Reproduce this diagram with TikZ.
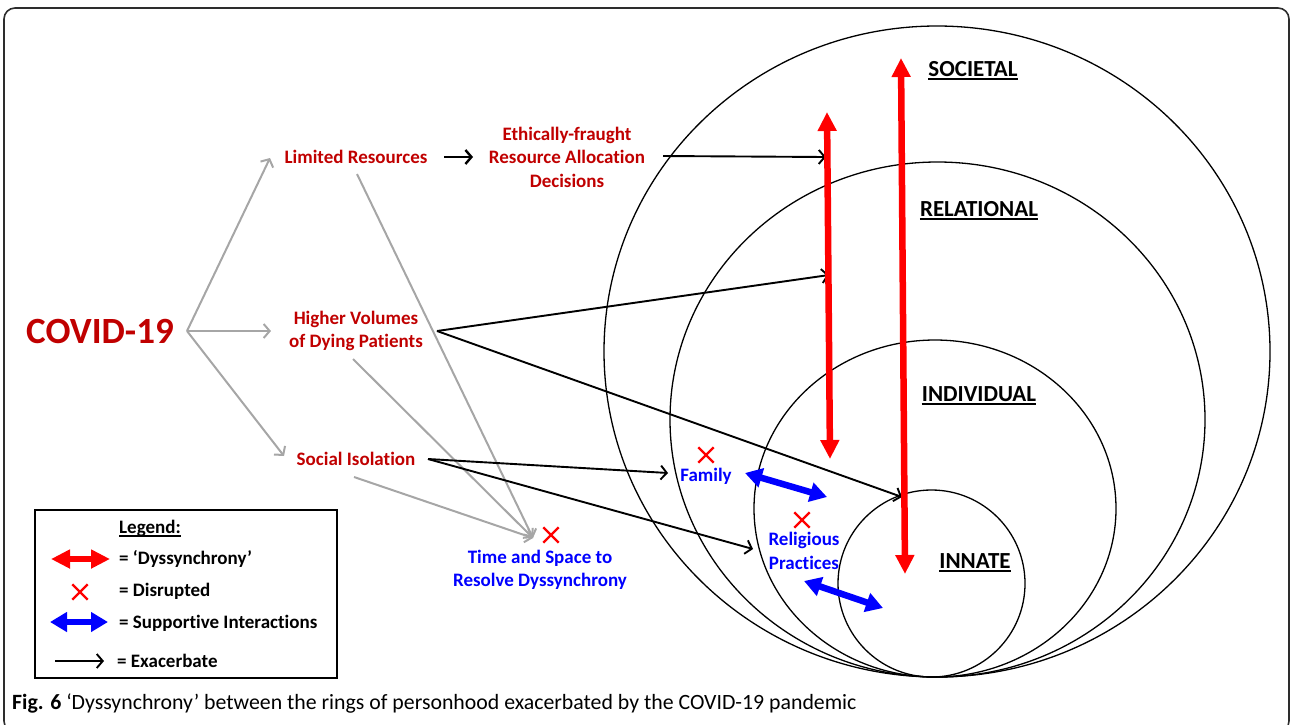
\documentclass[tikz,border=0pt]{standalone}
\usepackage{fontspec}
\setmainfont{Carlito}[Ligatures=NoCommon]
\usetikzlibrary{arrows.meta,shapes.misc,shapes.geometric}

\definecolor{labred}{RGB}{192,0,0}
\definecolor{hotred}{RGB}{255,0,0}
\definecolor{supblue}{RGB}{0,0,255}
\definecolor{linkgray}{RGB}{166,166,166}
\definecolor{framegray}{RGB}{45,45,45}

\begin{document}
\begin{tikzpicture}[x=1pt,y=-1pt,
  lbl/.style={font=\fontsize{19}{23.5}\selectfont\bfseries, align=center, inner sep=0pt},
  redlbl/.style={lbl, text=labred},
  bluelbl/.style={lbl, text=supblue},
  legtext/.style={font=\fontsize{19}{22}\selectfont\bfseries, anchor=west, inner sep=0pt},
  ringlbl/.style={font=\fontsize{23}{26}\selectfont\bfseries, inner sep=0pt},
  ring/.style={draw, line width=1.3pt, ellipse, inner sep=0pt},
  grayarrow/.style={draw=linkgray, line width=2pt, -{Straight Barb[length=6pt,width=14pt]}},
  exarrow/.style={draw=black, line width=1.9pt, -{Straight Barb[length=6pt,width=14pt]}},
  dyssync/.style={draw=hotred, line width=6.5pt, {Triangle[length=19pt,width=18pt]}-{Triangle[length=19pt,width=18pt]}},
  support/.style={draw=supblue, line width=6.5pt, {Triangle[length=17pt,width=19pt]}-{Triangle[length=17pt,width=19pt]}},
  xmark/.style={cross out, draw=hotred, line width=2.4pt, minimum size=13pt, inner sep=0pt},
]
\useasboundingbox (0,0) rectangle (1292,724);

% outer frame, its lower edge running off the page
\begin{scope}
  \clip (0,0) rectangle (1292,724);
  \draw[framegray, line width=1.6pt, rounded corners=11pt] (4,8) rectangle (1289,732);
\end{scope}

% rings of personhood, all touching at the bottom
\node[ring, minimum width=666pt, minimum height=651pt] (societal) at (937,351.5) {};
\node[ring, minimum width=535pt, minimum height=515pt] (relational) at (937.5,419.5) {};
\node[ring, minimum width=362pt, minimum height=337pt] (individual) at (935,508.5) {};
\node[ring, minimum width=187pt, minimum height=187pt] (innate) at (931.5,583.5) {};

\node[ringlbl] (socL) at (973,69) {SOCIETAL};
\node[ringlbl] (relL) at (979,209) {RELATIONAL};
\node[ringlbl] (indL) at (979,394) {INDIVIDUAL};
\node[ringlbl] (innL) at (975,561) {INNATE};
\foreach \n in {socL,relL,indL,innL}
  \draw[line width=1.7pt] ([yshift=-2.8pt]\n.base west) -- ([yshift=-2.8pt]\n.base east);

% causes
\node[font=\fontsize{37}{40}\selectfont\bfseries, text=labred, inner sep=0pt] (covid) at (100,331) {COVID-19};
\coordinate (fork) at (187,331);
\node[redlbl] (limres) at (356,157) {Limited Resources};
\node[redlbl] (ethic) at (567,157) {Ethically-fraught\\Resource Allocation\\Decisions};
\node[redlbl] (highvol) at (356,331) {Higher Volumes\\of Dying Patients};
\node[redlbl] (isol) at (356,459) {Social Isolation};

% disrupted supports
\node[bluelbl] (timespace) at (540,570) {Time and Space to\\Resolve Dyssynchrony};
\node[bluelbl] (family) at (706,476) {Family};
\node[bluelbl] (relig) at (804,551) {Religious\\Practices};
\node[xmark] (xtime) at (551,535) {};
\node[xmark] (xfam) at (706,455) {};
\node[xmark] (xrel) at (802,520) {};

% gray branches out of COVID-19
\coordinate (tLim) at (270,158);
\coordinate (tVol) at (271,331);
\coordinate (tIso) at (284,456);
\draw[grayarrow] (fork) -- (tLim);
\draw[grayarrow] (fork) -- (tVol);
\draw[grayarrow] (fork) -- (tIso);

% gray links converging on time and space
\coordinate (tTime) at (533,538);
\coordinate (sLim) at (357,174);
\coordinate (sVol) at (353,359);
\coordinate (sIso) at (354,477);
\draw[grayarrow] (sLim) -- (tTime);
\draw[grayarrow] (sVol) -- (tTime);
\draw[grayarrow] (sIso) -- (tTime);

% exacerbating links
\coordinate (limE) at (444,157);
\coordinate (ethW) at (473,157);
\draw[exarrow, line width=2.4pt] (limE) -- (ethW);
\coordinate (ethE) at (663,156);
\coordinate (hit1) at (826,157);
\draw[exarrow] (ethE) -- (hit1);
\coordinate (volE) at (437,331);
\coordinate (hit2) at (829,275);
\coordinate (hit3) at (902,497);
\draw[exarrow] (volE) -- (hit2);
\draw[exarrow] (volE) -- (hit3);
\coordinate (isoE) at (428,459);
\coordinate (famW) at (668,473);
\coordinate (relW) at (753,549);
\draw[exarrow] (isoE) -- (famW);
\draw[exarrow] (isoE) -- (relW);

% dyssynchrony between rings
\coordinate (d1top) at (827,112);
\coordinate (d1bot) at (830,459);
\coordinate (d2top) at (901,58);
\coordinate (d2bot) at (905,574);
\draw[dyssync] (d1bot) -- (d1top);
\draw[dyssync] (d2bot) -- (d2top);

% supportive interactions
\coordinate (s1a) at (745,473);
\coordinate (s1b) at (827,497);
\coordinate (s2a) at (804,581);
\coordinate (s2b) at (883,608);
\draw[support] (s1a) -- (s1b);
\draw[support] (s2a) -- (s2b);

% legend
\node[draw, line width=1.6pt, minimum width=302pt, minimum height=168pt, inner sep=0pt] (legend) at (186,594) {};
\node[font=\fontsize{19}{22}\selectfont\bfseries, inner sep=0pt] (legT) at (150,528) {Legend:};
\draw[line width=1.5pt] ([yshift=-2.8pt]legT.base west) -- ([yshift=-2.8pt]legT.base east);
\coordinate (lg1a) at (51,559);
\coordinate (lg1b) at (110,559);
\draw[dyssync] (lg1a) -- (lg1b);
\node[legtext] (lgt1) at (119,559) {= ‘Dyssynchrony’};
\node[xmark] (lgx) at (80,592) {};
\node[legtext] (lgt2) at (119,591) {= Disrupted};
\coordinate (lg3a) at (50,622);
\coordinate (lg3b) at (108,622);
\draw[support] (lg3a) -- (lg3b);
\node[legtext] (lgt3) at (119,623) {= Supportive Interactions};
\coordinate (lg4a) at (55,661);
\coordinate (lg4b) at (104,661);
\draw[exarrow] (lg4a) -- (lg4b);
\node[legtext] (lgt4) at (117,661) {= Exacerbate};

% caption
\node[anchor=base west, inner sep=0pt, font=\fontsize{21.8}{24}\selectfont] (caption) at (12,709)
  {\textbf{Fig. 6} ‘Dyssynchrony’ between the rings of personhood exacerbated by the COVID-19 pandemic};
\end{tikzpicture}
\end{document}
